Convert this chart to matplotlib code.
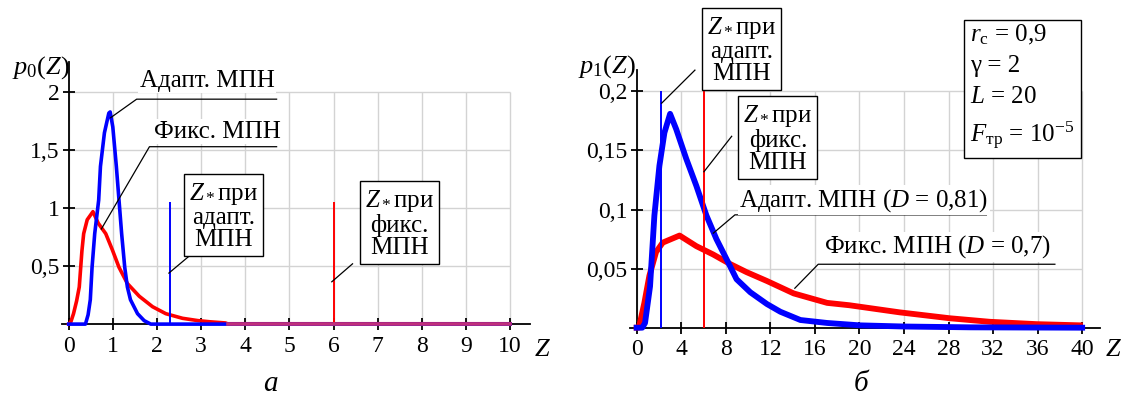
import matplotlib
matplotlib.use("Agg")
import matplotlib.pyplot as plt

plt.rcParams["font.family"] = ["Liberation Serif", "DejaVu Serif"]
plt.rcParams["mathtext.fontset"] = "custom"
plt.rcParams["mathtext.rm"] = "Liberation Serif"
plt.rcParams["mathtext.it"] = "Liberation Serif:italic"

BLUE = "#0000ff"
RED = "#ff0000"
GRID = "#d3d3d3"

# --- panel a: p0(Z) ---
z0_adapt = [0, 0.38, 0.44, 0.49, 0.53, 0.59, 0.68, 0.72, 0.81, 0.91, 0.94, 1.00, 1.08,
            1.14, 1.20, 1.27, 1.33, 1.40, 1.56, 1.71, 1.86, 10.0]
p0_adapt = [0, 0, 0.08, 0.21, 0.49, 0.78, 1.07, 1.36, 1.65, 1.82, 1.83, 1.70, 1.36,
            1.07, 0.78, 0.49, 0.32, 0.21, 0.09, 0.03, 0, 0]
z0_fix = [0, 0.05, 0.11, 0.18, 0.24, 0.30, 0.34, 0.42, 0.55, 0.67, 0.84, 0.99, 1.14,
          1.33, 1.60, 1.90, 2.20, 2.58, 2.93, 3.20, 3.55, 3.60, 10.0]
p0_fix = [0, 0.02, 0.09, 0.20, 0.32, 0.63, 0.78, 0.90, 0.97, 0.87, 0.78, 0.64, 0.49,
          0.35, 0.24, 0.15, 0.09, 0.05, 0.03, 0.02, 0.01, 0.003, 0.003]
zstar0_adapt, zstar0_fix, zstar0_h = 2.3, 6.0, 1.05
xt0 = [0, 1, 2, 3, 4, 5, 6, 7, 8, 9, 10]
yt0 = [0.5, 1.0, 1.5, 2.0]
yt0_lab = ["0,5", "1", "1,5", "2"]

# --- panel b: p1(Z) ---
z1_adapt = [0, 0.5, 0.75, 1.2, 1.59, 2.04, 2.49, 3.0, 3.55, 4.45, 5.36, 6.26, 7.16, 8.07,
            8.97, 10.2, 11.7, 12.9, 14.7, 17.1, 20, 24, 30, 40]
p1_adapt = [0, 0, 0.004, 0.035, 0.095, 0.137, 0.165, 0.181, 0.168, 0.143, 0.120, 0.095,
            0.075, 0.058, 0.041, 0.030, 0.020, 0.0135, 0.0065, 0.004, 0.002, 0.001,
            0.0003, 0]
z1_fix = [0, 0.2, 0.69, 1.14, 1.74, 2.34, 3.85, 5.36, 6.86, 8.37, 9.87, 11.7, 14.1, 17.1,
          19.1, 23.6, 28.1, 31.7, 35.9, 39.8]
p1_fix = [0, 0, 0.021, 0.044, 0.064, 0.072, 0.078, 0.069, 0.062, 0.054, 0.047, 0.0395,
          0.029, 0.021, 0.019, 0.013, 0.008, 0.005, 0.003, 0.002]
zstar1_adapt, zstar1_fix, zstar1_h = 2.15, 6.0, 0.2
xt1 = [0, 4, 8, 12, 16, 20, 24, 28, 32, 36, 40]
yt1 = [0.05, 0.1, 0.15, 0.2]
yt1_lab = ["0,05", "0,1", "0,15", "0,2"]

TICK_FS = 17
TXT_FS = 18

fig = plt.figure(figsize=(11.26, 4.03), dpi=100)


def setup(ax, xt, yt, ylab, xlim, ylim):
    ax.set_xlim(*xlim)
    ax.set_ylim(*ylim)
    for s in ["top", "right"]:
        ax.spines[s].set_visible(False)
    ax.spines["left"].set_position(("data", 0))
    ax.spines["bottom"].set_position(("data", 0))
    ax.spines["left"].set_linewidth(1.3)
    ax.spines["bottom"].set_linewidth(1.3)
    ax.set_xticks(xt)
    ax.set_xticklabels([str(v) for v in xt], fontsize=TICK_FS)
    ax.set_yticks(yt)
    ax.set_yticklabels(ylab, fontsize=TICK_FS)
    ax.tick_params(axis="x", direction="inout", length=9, width=1.3, pad=4)
    ax.tick_params(axis="y", direction="inout", length=9, width=1.3, pad=2)
    ax.vlines(xt, 0, yt[-1], color=GRID, lw=1, zorder=0)
    ax.hlines(yt, 0, xt[-1], color=GRID, lw=1, zorder=0)
    ax.patch.set_alpha(0)


def boxed(ax, x, y, lines, fs=TXT_FS):
    ax.text(x, y, "\n".join(lines), ha="center", va="center", fontsize=fs,
            linespacing=1.0, clip_on=False, zorder=6,
            bbox=dict(boxstyle="square,pad=0.2", fc="white", ec="black", lw=1))


def leader(ax, xs, ys):
    ax.plot(xs, ys, color="black", lw=0.9, clip_on=False, zorder=5)


# ---------------- panel a ----------------
ax0 = fig.add_axes([0.0551, 0.190, 0.4156, 0.656])
setup(ax0, xt0, yt0, yt0_lab, (-0.15, 10.45), (-0.02, 2.26))
ax0.plot(z0_fix, p0_fix, color=RED, lw=2.6, zorder=3, clip_on=False)
ax0.plot(z0_adapt, p0_adapt, color=BLUE, lw=2.6, zorder=3, clip_on=False)
ax0.plot([3.6, 10], [0.003, 0.003], color="#c0307a", lw=2.6, zorder=4)
ax0.vlines(zstar0_adapt, 0, zstar0_h, color=BLUE, lw=1.4, zorder=3)
ax0.vlines(zstar0_fix, 0, zstar0_h, color=RED, lw=1.4, zorder=3)

ax0.text(3.14, 2.10, "Адапт. МПН", ha="center", va="center", fontsize=TXT_FS, zorder=6,
         bbox=dict(fc="white", ec="none", pad=1))
leader(ax0, [0.95, 1.54, 4.71], [1.78, 1.94, 1.94])
ax0.text(3.36, 1.66, "Фикс. МПН", ha="center", va="center", fontsize=TXT_FS, zorder=6,
         bbox=dict(fc="white", ec="none", pad=1))
leader(ax0, [0.74, 1.83, 4.71], [0.82, 1.53, 1.53])
boxed(ax0, 3.5, 0.93, [r"$Z_*$при", "адапт.", "МПН"])
leader(ax0, [2.27, 2.74], [0.44, 0.59])
boxed(ax0, 7.49, 0.87, [r"$Z_*$при", "фикс.", "МПН"])
leader(ax0, [5.96, 6.43], [0.365, 0.52])

fig.text(12 / 1126, 1 - 68 / 403, r"$p_0(Z)$", fontsize=19, ha="left", va="center")
fig.text(542 / 1126, 1 - 350 / 403, r"$Z$", fontsize=19, ha="center", va="center")
fig.text(271 / 1126, 1 - 384 / 403, r"$a$", fontsize=21, ha="center", va="center")

# ---------------- panel b ----------------
ax1 = fig.add_axes([0.5595, 0.181, 0.4174, 0.645])
setup(ax1, xt1, yt1, yt1_lab, (-0.6, 41.6), (-0.002, 0.218))
ax1.plot(z1_fix, p1_fix, color=RED, lw=4.2, zorder=3, clip_on=False)
ax1.plot(z1_adapt, p1_adapt, color=BLUE, lw=4.2, zorder=3, clip_on=False)
ax1.vlines(zstar1_adapt, 0, zstar1_h, color=BLUE, lw=1.4, zorder=4)
ax1.vlines(zstar1_fix, 0, zstar1_h, color=RED, lw=1.4, zorder=4)

boxed(ax1, 9.42, 0.2354, [r"$Z_*$при", "адапт.", "МПН"])
leader(ax1, [2.24, 5.23], [0.190, 0.218])
boxed(ax1, 12.68, 0.1605, [r"$Z_*$при", "фикс.", "МПН"])
leader(ax1, [6.04, 8.53], [0.132, 0.162])

ax1.text(20.4, 0.108, r"Адапт. МПН ($D$ = 0,81)", ha="center", va="center",
         fontsize=TXT_FS, zorder=6, bbox=dict(fc="white", ec="none", pad=1))
leader(ax1, [6.88, 8.82, 31.4], [0.080, 0.0955, 0.0955])
ax1.text(27.05, 0.0684, r"Фикс. МПН ($D$ = 0,7)", ha="center", va="center",
         fontsize=TXT_FS, zorder=6, bbox=dict(fc="white", ec="none", pad=1))
leader(ax1, [14.2, 16.3, 37.55], [0.0334, 0.0537, 0.0537])

params = "\n".join([r"$r_{\rm c}$ = 0,9", "γ = 2", r"$L$ = 20",
                    r"$F_{\rm тр}$ = 10$^{-5}$"])
ax1.text(29.95, 0.2036, params, ha="left", va="center", fontsize=TXT_FS, linespacing=1.5,
         clip_on=False, zorder=6,
         bbox=dict(boxstyle="square,pad=0.25", fc="white", ec="black", lw=1))

fig.text(578 / 1126, 1 - 67 / 403, r"$p_1(Z)$", fontsize=19, ha="left", va="center")
fig.text(1113 / 1126, 1 - 350 / 403, r"$Z$", fontsize=19, ha="center", va="center")
fig.text(861 / 1126, 1 - 384 / 403, "б", fontsize=21, ha="center", va="center",
         style="italic")

fig.savefig("out.png", dpi=100)
